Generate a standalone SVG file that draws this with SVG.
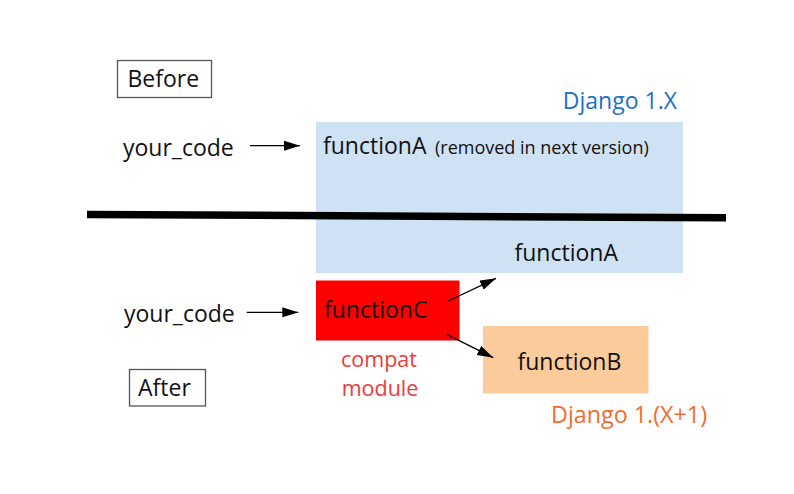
<svg xmlns="http://www.w3.org/2000/svg" width="794" height="494" viewBox="0 0 794 494">
  <defs>
    <style>
      text { font-family: "Open Sans", "DejaVu Sans", sans-serif; }
      .t { font-size: 23px; fill: #111; }
      .s { font-size: 18px; fill: #111; }
      .lbl { fill: #fff; stroke: #555; stroke-width: 1.3; }
      .conn { stroke: #000; stroke-width: 1.3; fill: none; marker-end: url(#ah); }
      .compat { font-size: 21.5px; fill: #ee3a3a; text-anchor: middle; }
    </style>
    <marker id="ah" viewBox="0 0 16 10" refX="16" refY="5" markerWidth="16" markerHeight="10" markerUnits="userSpaceOnUse" orient="auto">
      <path d="M0,0 L16,5 L0,10 Z" fill="#000"/>
    </marker>
  </defs>
  <rect width="794" height="494" fill="#fff"/>

  <g id="before-label">
    <rect class="lbl" x="117.5" y="60.5" width="94" height="37"/>
    <text class="t" x="127.5" y="87">Before</text>
  </g>

  <g id="django-1x">
    <rect x="316" y="122" width="367" height="151" fill="#cfe2f3"/>
    <text x="677" y="108.5" font-size="23" fill="#1f6fc6" text-anchor="end">Django 1.X</text>
  </g>

  <g id="your-code-before">
    <text class="t" x="123" y="155.5">your_code</text>
  </g>

  <g id="functionA-before">
    <text x="323" y="153.5"><tspan class="t">functionA</tspan><tspan class="s" x="435">(removed in next version)</tspan></text>
  </g>

  <g id="divider">
    <line x1="87" y1="214.5" x2="726" y2="217.8" stroke="#000" stroke-width="7.5"/>
  </g>

  <g id="functionA-after">
    <text class="t" x="514.5" y="261">functionA</text>
  </g>

  <g id="your-code-after">
    <text class="t" x="124" y="321.5">your_code</text>
  </g>

  <g id="functionC">
    <rect x="316" y="280.5" width="143.5" height="60" fill="#ff0000"/>
    <text class="t" x="324" y="317.5">functionC</text>
  </g>

  <g id="compat-module">
    <text class="compat" x="379" y="366.5">compat</text>
    <text class="compat" x="380" y="396">module</text>
  </g>

  <g id="functionB">
    <rect x="483" y="326" width="165.5" height="67.5" fill="#fbcb9b"/>
    <text class="t" x="517.5" y="370">functionB</text>
  </g>

  <g id="django-1x1">
    <text x="551" y="423" font-size="23.3" fill="#f26d2f">Django 1.(X+1)</text>
  </g>

  <g id="after-label">
    <rect class="lbl" x="129.5" y="369.5" width="76" height="36.5"/>
    <text class="t" x="138" y="396">After</text>
  </g>

  <g id="connectors">
    <line class="conn" x1="250" y1="145.7" x2="300" y2="145.7"/>
    <line class="conn" x1="246.7" y1="312.3" x2="298.3" y2="312.3"/>
    <line class="conn" x1="448.3" y1="301" x2="496" y2="278.3"/>
    <line class="conn" x1="446.7" y1="334.3" x2="493.3" y2="357.7"/>
  </g>
</svg>
